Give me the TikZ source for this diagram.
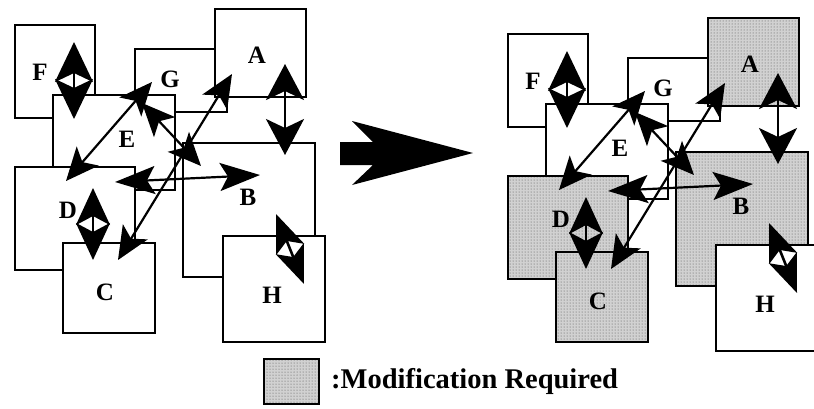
\documentclass[tikz,border=0pt]{standalone}
\usepackage{fontspec}
\setmainfont{Liberation Serif}
\usetikzlibrary{arrows.meta,patterns}
\tikzset{
  box/.style={draw=black, line width=2.5pt, fill=white, inner sep=0pt, outer sep=0pt},
  shadedbox/.style={draw=black, line width=2.5pt, fill=black!18, inner sep=0pt, outer sep=0pt,
     postaction={pattern=dots, pattern color=black!70},
     postaction={draw=black, line width=2.5pt}},
  mod/.style={box},
  lbl/.style={font=\fontsize{25}{27}\selectfont\bfseries, inner sep=0pt},
  bigarr/.style={line width=2.6pt, >={Stealth[length=40pt,width=38pt,inset=9pt]}, <->},
  midarr/.style={line width=2.6pt, >={Stealth[length=37pt,width=34pt,inset=9pt]}, <->},
  thinarr/.style={line width=2.2pt, >={Stealth[length=33pt,width=29pt,inset=8pt]}, <->},
}
\newcommand\boxnode[6]{%
  \node[#6, minimum width={(#4-#2)*1pt}, minimum height={(#5-#3)*1pt}]
    (#1) at ({(#2+#4)/2},{(#3+#5)/2}) {};}
\newcommand\diagcontent{%
  \boxnode{F}{15}{25}{95}{118}{box}
  \boxnode{G}{135}{49}{227}{112}{box}
  \boxnode{A}{215}{9}{306}{97}{mod}
  \boxnode{E}{53}{95}{175}{190}{box}
  \boxnode{D}{15}{167}{135}{270}{mod}
  \boxnode{C}{63}{243}{155}{333}{mod}
  \boxnode{B}{183}{143}{315}{277}{mod}
  \boxnode{H}{223}{236}{325}{342}{box}
  \node[lbl] (tF) at (40,72) {F};
  \node[lbl] (tG) at (170,79) {G};
  \node[lbl] (tA) at (257,55) {A};
  \node[lbl] (tE) at (127,139) {E};
  \node[lbl] (tB) at (248,197) {B};
  \node[lbl] (tD) at (68,210) {D};
  \node[lbl] (tC) at (105,292) {C};
  \node[lbl] (tH) at (272,295) {H};
  \coordinate (f1) at (74,42);   \coordinate (f2) at (74,119);
  \coordinate (ab1) at (285,64); \coordinate (ab2) at (285,155);
  \coordinate (dc1) at (93,188); \coordinate (dc2) at (93,260);
  \coordinate (h1) at (276,214); \coordinate (h2) at (304,284);
  \coordinate (gd1) at (152,82); \coordinate (gd2) at (66,181);
  \coordinate (gj1) at (142,103); \coordinate (gj2) at (201,166);
  \coordinate (ca1) at (118,260); \coordinate (ca2) at (232,74);
  \coordinate (db1) at (115,182); \coordinate (db2) at (260,175);
  \draw[bigarr] (f1) -- (f2);
  \draw[bigarr, >={Stealth[length=36pt,width=38pt,inset=9pt]}] (ab1) -- (ab2);
  \draw[midarr] (dc1) -- (dc2);
  \draw[midarr, >={Stealth[length=38pt,width=30pt,inset=9pt]}] (h1) -- (h2);
  \draw[thinarr] (gd1) -- (gd2);
  \draw[thinarr] (gj1) -- (gj2);
  \draw[thinarr] (ca1) -- (ca2);
  \draw[thinarr, >={Stealth[length=40pt,width=28pt,inset=8pt]}] (db1) -- (db2);
}
\begin{document}
\begin{tikzpicture}[x=1pt, y=-1pt]
  \useasboundingbox (0,0) rectangle (814,408);
  \fill[white] (0,0) rectangle (814,408);
  \begin{scope}[name prefix=l-]
    \diagcontent
  \end{scope}
  \begin{scope}[shift={(493,9)}, name prefix=r-, mod/.style={shadedbox}]
    \clip (-493,-9) rectangle (321,399);
    \diagcontent
  \end{scope}
  % central transformation arrow
  \fill[black] (340,142) -- (373,142) -- (352,121) -- (473,153) -- (352,185) -- (373,165) -- (340,165) -- cycle;
  % legend
  \node[shadedbox, minimum width=55pt, minimum height=45pt] (leg) at (291.5,381.5) {};
  \node[anchor=west, inner sep=0pt, font=\fontsize{28.5}{30}\selectfont\bfseries] (legtext) at (331,381) {:Modification Required};
\end{tikzpicture}
\end{document}
